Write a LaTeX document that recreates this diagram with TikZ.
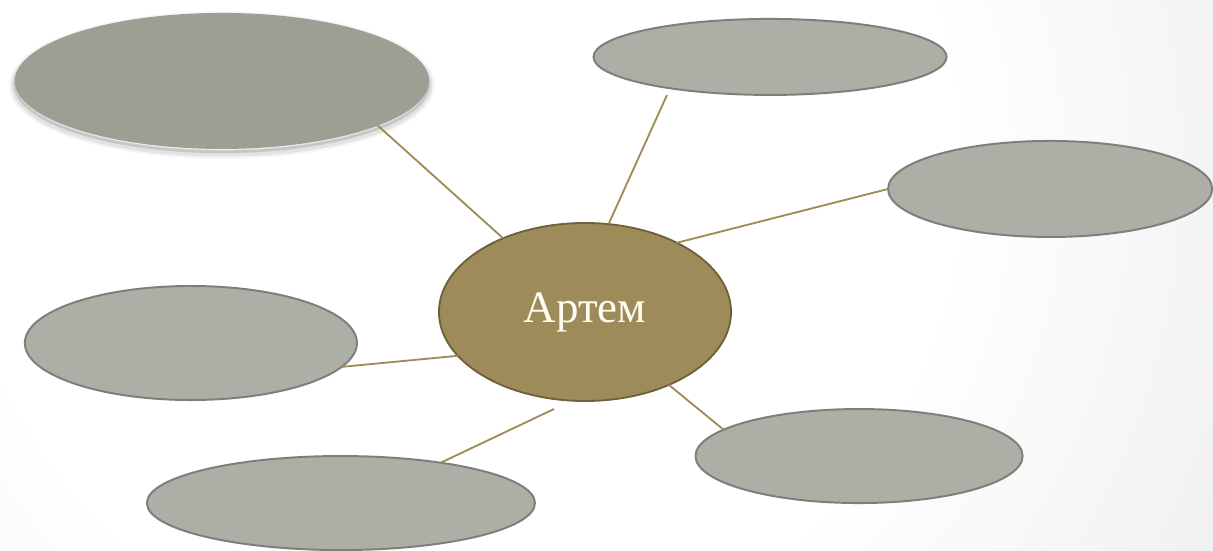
\documentclass[tikz,border=0pt]{standalone}
\usepackage{fontspec}
\setmainfont{Liberation Serif}
\usetikzlibrary{shapes.geometric,positioning}

\definecolor{hubfill}{HTML}{9E8B5A}
\definecolor{hubline}{HTML}{6E6038}
\definecolor{hubtext}{HTML}{FFFDF2}
\definecolor{leaffill}{HTML}{ADAEA6}
\definecolor{leafline}{HTML}{7E7F7A}
\definecolor{darkleaf}{HTML}{9E9F94}
\definecolor{linkcol}{HTML}{9E8B55}
\definecolor{bgedge}{HTML}{C9CACC}

\pgfdeclareradialshading{backdrop}{\pgfpoint{0bp}{0bp}}{color(0bp)=(white); color(14bp)=(white); color(50bp)=(bgedge)}

\begin{document}
\begin{tikzpicture}[x=0.025cm, y=-0.025cm, node distance=2cm, on grid,
   hub/.style={ellipse, draw=hubline, line width=1.3pt, fill=hubfill, inner sep=0pt, outer sep=0pt,
      text=hubtext, font=\fontsize{32}{36}\selectfont},
   leaf/.style={ellipse, draw=leafline, line width=1.4pt, fill=leaffill, inner sep=0pt, outer sep=0pt},
   softleaf/.style={ellipse, fill=darkleaf, inner sep=0pt, outer sep=0pt,
      preaction={draw=black, draw opacity=0.04, line width=8pt, transform canvas={yshift=-3pt}},
      preaction={draw=black, draw opacity=0.07, line width=5pt, transform canvas={yshift=-3pt}},
      preaction={draw=black, draw opacity=0.12, line width=2pt, transform canvas={yshift=-2pt}}},
   link/.style={draw=linkcol, line width=1.3pt}]
   \useasboundingbox (0,0) rectangle (1213,551);
   % backdrop
   \begin{scope}
      \clip (0,0) rectangle (1213,551);
      \shade[shading=backdrop] (460,170) circle (22cm);
   \end{scope}

   \node[hub, minimum width=7.3cm, minimum height=4.45cm] (artem) at (585,312) {Артем};
   \node[softleaf, minimum width=10.35cm, minimum height=3.4cm] (nw) [above left=5.775cm and 9.075cm of artem] {};
   \node[leaf, minimum width=8.825cm, minimum height=1.9cm]  (n)  [above right=6.375cm and 4.625cm of artem] {};
   \node[leaf, minimum width=8.1cm, minimum height=2.4cm]    (e)  [above right=3.075cm and 11.625cm of artem] {};
   \node[leaf, minimum width=8.3cm, minimum height=2.85cm]   (w)  [below left=0.775cm and 9.85cm of artem] {};
   \node[leaf, minimum width=9.7cm, minimum height=2.35cm]   (s)  [below left=4.775cm and 6.1cm of artem] {};
   \node[leaf, minimum width=8.175cm, minimum height=2.35cm] (se) [below right=3.6cm and 6.85cm of artem] {};

   \coordinate (ntip) at (667,95);
   \coordinate (stip) at (554,409);

   \path[link]
    (nw.-16)   edge (artem.138)
    (ntip)     edge (artem.75)
    (e.west)   edge (artem.37)
    (w.-9)     edge (artem.-161)
    (s.22)     edge (stip)
    (artem.-41) edge (se.169);
\end{tikzpicture}
\end{document}
